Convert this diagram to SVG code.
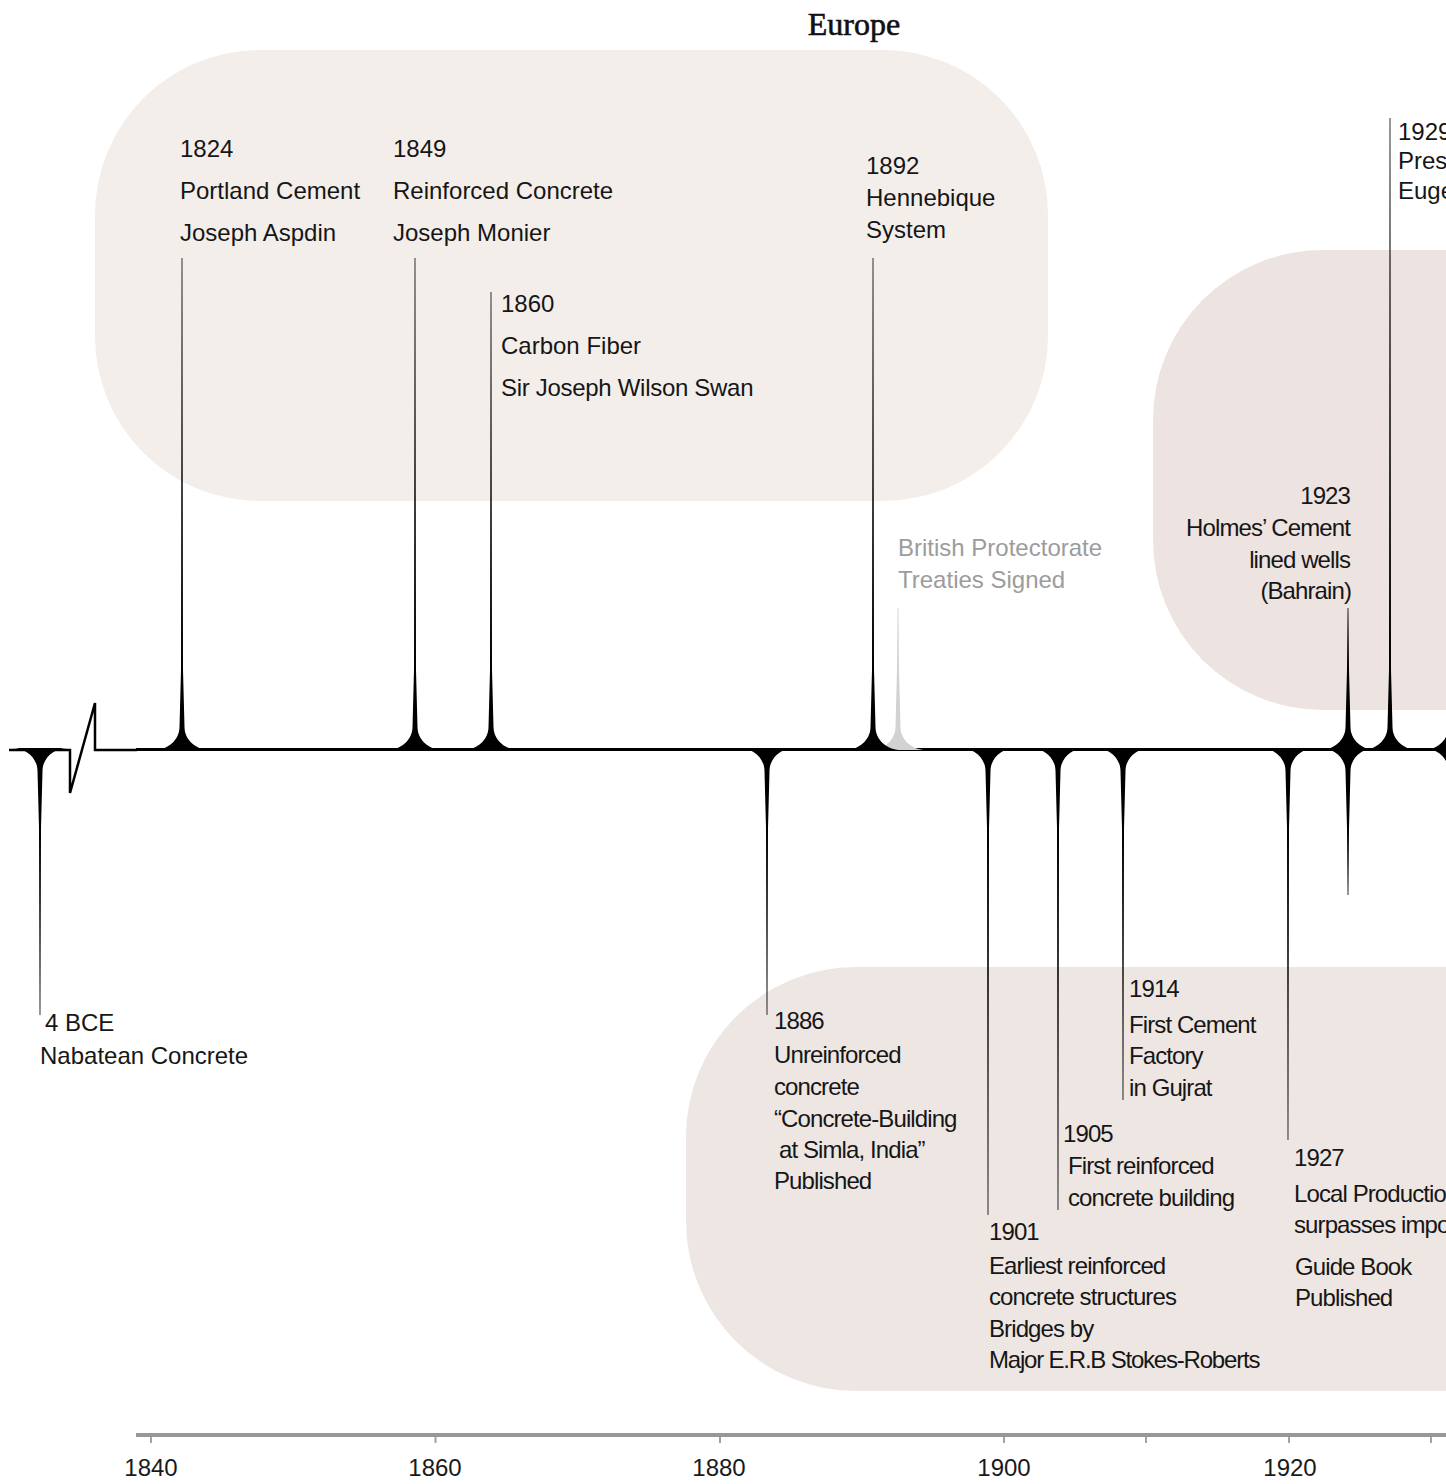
<svg xmlns="http://www.w3.org/2000/svg" width="1446" height="1484" viewBox="0 0 1446 1484">
  <style>
    .t{font-family:"Liberation Sans",Arial,sans-serif;font-size:24px;fill:#161616}
    .c{letter-spacing:-0.9px}
    .g{fill:#9c9c9c}
    .end{text-anchor:end}
    .mid{text-anchor:middle}
    .spk{fill:#000}
    .spk-g{fill:#d2d2d2}
    .yr{font-family:"Liberation Sans",Arial,sans-serif;font-size:24px;fill:#1a1a1a;text-anchor:middle}
  </style>

  <!-- region panels -->
  <g id="regions">
    <rect id="europe-panel" x="95" y="50" width="953" height="451" rx="165" ry="165" fill="#f4eeeb"/>
    <rect id="gulf-panel" x="1153" y="250" width="600" height="460" rx="170" ry="170" fill="#ede3e0"/>
    <rect id="india-panel" x="686" y="967" width="1000" height="424" rx="170" ry="170" fill="#eee6e3"/>
  </g>

  <text id="title-europe" x="854" y="35" text-anchor="middle" font-family="'Liberation Serif','Times New Roman',serif" font-size="32" fill="#111" stroke="#111" stroke-width="0.6">Europe</text>

  <!-- timeline spine and event spikes -->
  <g id="connectors">
    <polyline points="9,750 70,750 70,793 95,703 95,750 137,750" fill="none" stroke="#000" stroke-width="2.5" stroke-linejoin="miter"/>
    <line x1="136" y1="749.5" x2="1446" y2="749.5" stroke="#000" stroke-width="3"/>

    <!-- upward spikes -->
    <path class="spk-g" transform="translate(898,0)" d="M-28,750 C-13.9,750 -2.5,739.7 -2.5,727 L-1,670 L-0.4,608 L0.4,608 L1,670 L2.5,727 C2.5,739.7 13.9,750 28,750Z"/>
    <path class="spk" transform="translate(182,0)" d="M-28,750 C-13.9,750 -2.5,739.7 -2.5,727 L-1,670 L-0.4,258 L0.4,258 L1,670 L2.5,727 C2.5,739.7 13.9,750 28,750Z"/>
    <path class="spk" transform="translate(415,0)" d="M-28,750 C-13.9,750 -2.5,739.7 -2.5,727 L-1,670 L-0.4,258 L0.4,258 L1,670 L2.5,727 C2.5,739.7 13.9,750 28,750Z"/>
    <path class="spk" transform="translate(491,0)" d="M-28,750 C-13.9,750 -2.5,739.7 -2.5,727 L-1,670 L-0.4,292 L0.4,292 L1,670 L2.5,727 C2.5,739.7 13.9,750 28,750Z"/>
    <path class="spk" transform="translate(873,0)" d="M-28,750 C-13.9,750 -2.5,739.7 -2.5,727 L-1,670 L-0.4,258 L0.4,258 L1,670 L2.5,727 C2.5,739.7 13.9,750 28,750Z"/>
    <path class="spk" transform="translate(1348,0)" d="M-28,750 C-13.9,750 -2.5,739.7 -2.5,727 L-1,670 L-0.4,608 L0.4,608 L1,670 L2.5,727 C2.5,739.7 13.9,750 28,750Z"/>
    <path class="spk" transform="translate(1390,0)" d="M-28,750 C-13.9,750 -2.5,739.7 -2.5,727 L-1,670 L-0.4,118 L0.4,118 L1,670 L2.5,727 C2.5,739.7 13.9,750 28,750Z"/>
    <path class="spk" transform="translate(1451,0)" d="M-28,750 C-13.9,750 -2.5,739.7 -2.5,727 L-1,670 L-0.4,600 L0.4,600 L1,670 L2.5,727 C2.5,739.7 13.9,750 28,750Z"/>

    <!-- downward spikes -->
    <path class="spk" transform="translate(40,0)" d="M-28,748 C-13.9,748 -2.5,758.3 -2.5,771 L-1,828 L-0.4,1015 L0.4,1015 L1,828 L2.5,771 C2.5,758.3 13.9,748 28,748Z"/>
    <path class="spk" transform="translate(767,0)" d="M-28,748 C-13.9,748 -2.5,758.3 -2.5,771 L-1,828 L-0.4,1015 L0.4,1015 L1,828 L2.5,771 C2.5,758.3 13.9,748 28,748Z"/>
    <path class="spk" transform="translate(988,0)" d="M-28,748 C-13.9,748 -2.5,758.3 -2.5,771 L-1,828 L-0.4,1215 L0.4,1215 L1,828 L2.5,771 C2.5,758.3 13.9,748 28,748Z"/>
    <path class="spk" transform="translate(1058,0)" d="M-28,748 C-13.9,748 -2.5,758.3 -2.5,771 L-1,828 L-0.4,1210 L0.4,1210 L1,828 L2.5,771 C2.5,758.3 13.9,748 28,748Z"/>
    <path class="spk" transform="translate(1123,0)" d="M-28,748 C-13.9,748 -2.5,758.3 -2.5,771 L-1,828 L-0.4,1100 L0.4,1100 L1,828 L2.5,771 C2.5,758.3 13.9,748 28,748Z"/>
    <path class="spk" transform="translate(1288,0)" d="M-28,748 C-13.9,748 -2.5,758.3 -2.5,771 L-1,828 L-0.4,1140 L0.4,1140 L1,828 L2.5,771 C2.5,758.3 13.9,748 28,748Z"/>
    <path class="spk" transform="translate(1348,0)" d="M-28,748 C-13.9,748 -2.5,758.3 -2.5,771 L-1,828 L-0.4,895 L0.4,895 L1,828 L2.5,771 C2.5,758.3 13.9,748 28,748Z"/>
    <path class="spk" transform="translate(1451,0)" d="M-28,748 C-13.9,748 -2.5,758.3 -2.5,771 L-1,828 L-0.4,1000 L0.4,1000 L1,828 L2.5,771 C2.5,758.3 13.9,748 28,748Z"/>
  </g>

  <!-- events -->
  <g id="ev-4bce" class="t">
    <text x="45" y="1031">4 BCE</text>
    <text x="40" y="1064">Nabatean Concrete</text>
  </g>
  <g id="ev-1824" class="t">
    <text x="180" y="157">1824</text>
    <text x="180" y="199">Portland Cement</text>
    <text x="180" y="241">Joseph Aspdin</text>
  </g>
  <g id="ev-1849" class="t">
    <text x="393" y="157">1849</text>
    <text x="393" y="199">Reinforced Concrete</text>
    <text x="393" y="241">Joseph Monier</text>
  </g>
  <g id="ev-1860" class="t">
    <text x="501" y="312">1860</text>
    <text x="501" y="354">Carbon Fiber</text>
    <text x="501" y="396" letter-spacing="-0.3">Sir Joseph Wilson Swan</text>
  </g>
  <g id="ev-1892" class="t">
    <text x="866" y="174">1892</text>
    <text x="866" y="206">Hennebique</text>
    <text x="866" y="238">System</text>
  </g>
  <g id="ev-protectorate" class="t g">
    <text x="898" y="556">British Protectorate</text>
    <text x="898" y="588">Treaties Signed</text>
  </g>
  <g id="ev-1923" class="t c end">
    <text x="1350" y="504">1923</text>
    <text x="1350" y="536">Holmes’ Cement</text>
    <text x="1350" y="568">lined wells</text>
    <text x="1351" y="599">(Bahrain)</text>
  </g>
  <g id="ev-1929" class="t">
    <text x="1398" y="140">1929</text>
    <text x="1398" y="169">Pres</text>
    <text x="1398" y="199">Euge</text>
  </g>
  <g id="ev-1886" class="t c">
    <text x="774" y="1029">1886</text>
    <text x="774" y="1063">Unreinforced</text>
    <text x="774" y="1095">concrete</text>
    <text x="774" y="1127">“Concrete-Building</text>
    <text x="779" y="1158">at Simla, India”</text>
    <text x="774" y="1189">Published</text>
  </g>
  <g id="ev-1901" class="t c">
    <text x="989" y="1240">1901</text>
    <text x="989" y="1274">Earliest reinforced</text>
    <text x="989" y="1305">concrete structures</text>
    <text x="989" y="1337">Bridges by</text>
    <text x="989" y="1368" letter-spacing="-1.2">Major E.R.B Stokes-Roberts</text>
  </g>
  <g id="ev-1905" class="t c">
    <text x="1063" y="1142">1905</text>
    <text x="1068" y="1174">First reinforced</text>
    <text x="1068" y="1206">concrete building</text>
  </g>
  <g id="ev-1914" class="t c">
    <text x="1129" y="997">1914</text>
    <text x="1129" y="1033">First Cement</text>
    <text x="1129" y="1064">Factory</text>
    <text x="1129" y="1096">in Gujrat</text>
  </g>
  <g id="ev-1927" class="t c">
    <text x="1294" y="1166">1927</text>
    <text x="1294" y="1202">Local Productio</text>
    <text x="1294" y="1233">surpasses impo</text>
    <text x="1295" y="1275">Guide Book</text>
    <text x="1295" y="1306">Published</text>
  </g>

  <!-- year axis -->
  <g id="year-axis">
    <rect x="136" y="1433" width="1310" height="4" fill="#9a9896"/>
    <g fill="#a3a3a3">
      <rect x="150" y="1437" width="2" height="6"/>
      <rect x="434.5" y="1437" width="2" height="6"/>
      <rect x="719" y="1437" width="2" height="6"/>
      <rect x="1003" y="1437" width="2" height="6"/>
      <rect x="1145" y="1437" width="2" height="6"/>
      <rect x="1288" y="1437" width="2" height="6"/>
      <rect x="1430" y="1437" width="2" height="6"/>
    </g>
    <text class="yr" x="151" y="1476">1840</text>
    <text class="yr" x="435" y="1476">1860</text>
    <text class="yr" x="719" y="1476">1880</text>
    <text class="yr" x="1004" y="1476">1900</text>
    <text class="yr" x="1290" y="1476">1920</text>
  </g>
</svg>
